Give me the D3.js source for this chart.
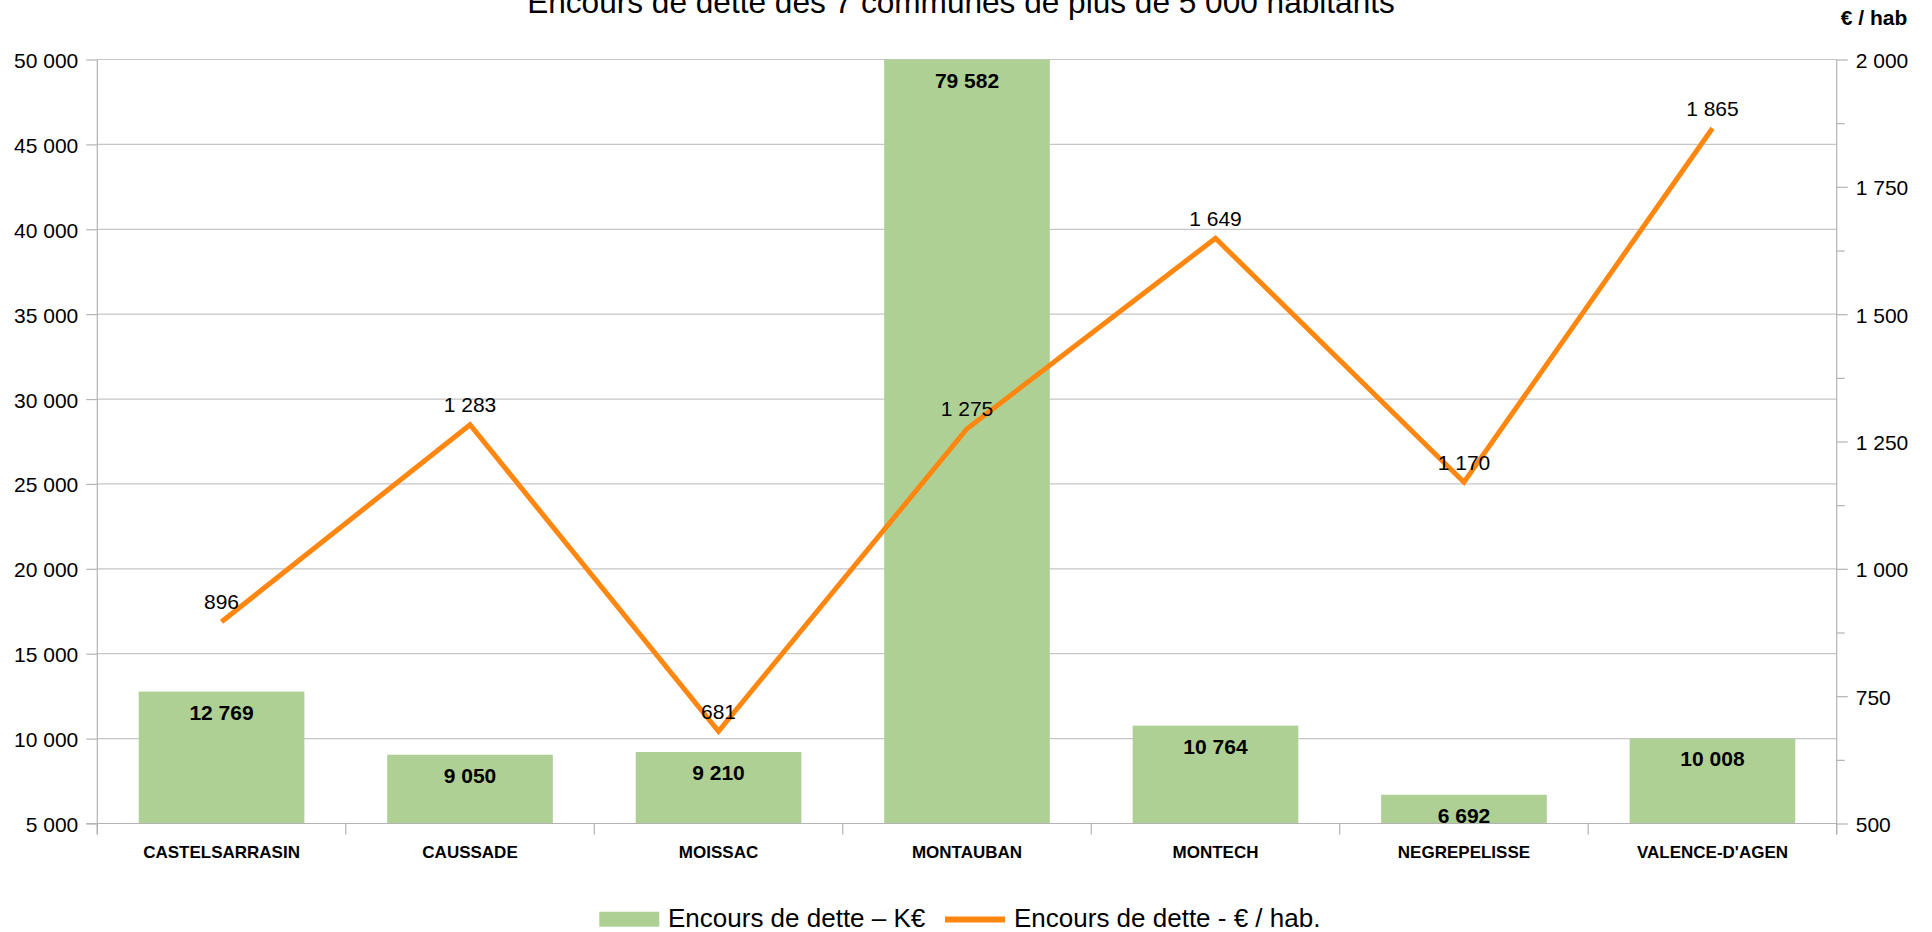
<!DOCTYPE html>
<html>
<head>
<meta charset="utf-8">
<script src="https://cdn.jsdelivr.net/npm/d3@7"></script>
<style>
  html, body { margin: 0; padding: 0; background: #ffffff; }
  svg { display: block; font-family: "Liberation Sans", Arial, sans-serif; }
</style>
</head>
<body>
<svg id="chart" width="1932" height="932"></svg>
<script>
// ---- Data ----
const categories = ["CASTELSARRASIN", "CAUSSADE", "MOISSAC", "MONTAUBAN", "MONTECH", "NEGREPELISSE", "VALENCE-D'AGEN"];
const debtK = [12769, 9050, 9210, 79582, 10764, 6692, 10008];
const debtPerHab = [896, 1283, 681, 1275, 1649, 1170, 1865];
const leftTicks = [5000, 10000, 15000, 20000, 25000, 30000, 35000, 40000, 45000, 50000];
const rightTicks = [500, 750, 1000, 1250, 1500, 1750, 2000];
const rightMinorTicks = [625, 875, 1125, 1375, 1625, 1875];
const titleText = "Encours de dette des 7 communes de plus de 5 000 habitants";
const rightAxisTitle = "€ / hab";
const seriesNames = ["Encours de dette – K€", "Encours de dette - € / hab."];

// ---- Layout ----
const W = 1932, H = 932;
const plot = { left: 97.3, right: 1836.7, top: 59.5, bottom: 823.5 };
const barColor = "#afd095";
const lineColor = "#ff870f";
const gridColor = "#c6c6c6";
const axisColor = "#b3b3b3";

const fr = d3.formatLocale({ decimal: ",", thousands: " ", grouping: [3], currency: ["", " €"] });
const fmt = fr.format(",d");

const svg = d3.select("#chart");

const x = d3.scaleBand().domain(categories).range([plot.left, plot.right]).padding(0);
const yL = d3.scaleLinear().domain([5000, 50000]).range([plot.bottom, plot.top]).clamp(true);
const yR = d3.scaleLinear().domain([500, 2000]).range([plot.bottom, plot.top]);

// Title
svg.append("text")
  .attr("x", 961).attr("y", 12.5)
  .attr("text-anchor", "middle")
  .attr("font-size", 31.6)
  .attr("fill", "#000")
  .text(titleText);

// Right axis title
svg.append("text")
  .attr("x", 1874).attr("y", 25)
  .attr("text-anchor", "middle")
  .attr("font-size", 21)
  .attr("font-weight", "bold")
  .attr("fill", "#000")
  .text(rightAxisTitle);

// Gridlines
svg.append("g").selectAll("line")
  .data(leftTicks.filter(t => t !== 5000))
  .join("line")
  .attr("x1", plot.left).attr("x2", plot.right)
  .attr("y1", d => yL(d)).attr("y2", d => yL(d))
  .attr("stroke", gridColor).attr("stroke-width", 1.2);

// Bars
const barW = x.bandwidth() * 2 / 3;
svg.append("g").selectAll("rect")
  .data(categories)
  .join("rect")
  .attr("x", (d) => x(d) + (x.bandwidth() - barW) / 2)
  .attr("width", barW)
  .attr("y", (d, i) => yL(debtK[i]))
  .attr("height", (d, i) => yL(5000) - yL(debtK[i]))
  .attr("fill", barColor);

// Left axis
const leftAxis = d3.axisLeft(yL).tickValues(leftTicks).tickFormat(fmt).tickSize(11).tickPadding(8);
const gL = svg.append("g").attr("transform", `translate(${plot.left},0)`).call(leftAxis);
gL.select(".domain").attr("stroke", axisColor).attr("stroke-width", 1.2)
  .attr("d", `M0,${plot.top}V${plot.bottom + 11}`);
gL.selectAll(".tick line").attr("stroke", axisColor).attr("stroke-width", 1.2);
gL.selectAll(".tick text").attr("font-size", 21).attr("fill", "#000")
  .attr("font-family", "Liberation Sans, Arial, sans-serif").attr("dy", "0.38em");

// Right axis
const rightAxis = d3.axisRight(yR).tickValues(rightTicks).tickFormat(fmt).tickSize(11).tickPadding(8);
const gR = svg.append("g").attr("transform", `translate(${plot.right},0)`).call(rightAxis);
gR.select(".domain").attr("stroke", axisColor).attr("stroke-width", 1.2)
  .attr("d", `M0,${plot.top}V${plot.bottom + 11}`);
gR.selectAll(".tick line").attr("stroke", axisColor).attr("stroke-width", 1.2);
gR.selectAll(".tick text").attr("font-size", 21).attr("fill", "#000")
  .attr("font-family", "Liberation Sans, Arial, sans-serif").attr("dy", "0.38em");
const minorAxis = d3.axisRight(yR).tickValues(rightMinorTicks).tickFormat("").tickSize(8);
const gRm = svg.append("g").attr("transform", `translate(${plot.right},0)`).call(minorAxis);
gRm.select(".domain").remove();
gRm.selectAll(".tick line").attr("stroke", axisColor).attr("stroke-width", 1.2);

// Bottom axis
const gB = svg.append("g").attr("transform", `translate(0,${plot.bottom})`)
  .call(d3.axisBottom(x).tickSize(0).tickPadding(0));
gB.select(".domain").attr("stroke", axisColor).attr("stroke-width", 1.2)
  .attr("d", `M${plot.left - 11},0H${plot.right}`);
gB.selectAll(".tick text")
  .attr("y", 34)
  .attr("dy", 0)
  .attr("font-size", 17)
  .attr("font-weight", "bold")
  .attr("fill", "#000")
  .attr("font-family", "Liberation Sans, Arial, sans-serif");
// Category separator ticks
const boundaries = categories.map(c => x(c)).concat([plot.right]);
svg.append("g").selectAll("line")
  .data(boundaries)
  .join("line")
  .attr("x1", d => d).attr("x2", d => d)
  .attr("y1", plot.bottom).attr("y2", plot.bottom + 11)
  .attr("stroke", axisColor).attr("stroke-width", 1.2);

// Bar labels
svg.append("g").selectAll("text")
  .data(categories)
  .join("text")
  .attr("x", d => x(d) + x.bandwidth() / 2)
  .attr("y", (d, i) => yL(debtK[i]) + 28)
  .attr("text-anchor", "middle")
  .attr("font-size", 21)
  .attr("font-weight", "bold")
  .attr("fill", "#000")
  .text((d, i) => fmt(debtK[i]));

// Line
const lineGen = d3.line()
  .x((d, i) => x(categories[i]) + x.bandwidth() / 2)
  .y(d => yR(d));
svg.append("path")
  .datum(debtPerHab)
  .attr("d", lineGen)
  .attr("fill", "none")
  .attr("stroke", lineColor)
  .attr("stroke-width", 5)
  .attr("stroke-linejoin", "miter");

// Line labels
svg.append("g").selectAll("text")
  .data(debtPerHab)
  .join("text")
  .attr("x", (d, i) => x(categories[i]) + x.bandwidth() / 2)
  .attr("y", d => yR(d) - 12.5)
  .attr("text-anchor", "middle")
  .attr("font-size", 21)
  .attr("fill", "#000")
  .text(d => fmt(d));

// Legend
const lg = svg.append("g");
lg.append("rect").attr("x", 599.3).attr("y", 911.7).attr("width", 60).attr("height", 15).attr("fill", barColor);
lg.append("text").attr("x", 668).attr("y", 926.7).attr("font-size", 26).attr("fill", "#000").text(seriesNames[0]);
lg.append("line").attr("x1", 945).attr("x2", 1005).attr("y1", 919.5).attr("y2", 919.5)
  .attr("stroke", lineColor).attr("stroke-width", 6);
lg.append("text").attr("x", 1014).attr("y", 926.7).attr("font-size", 26).attr("fill", "#000").text(seriesNames[1]);
</script>
</body>
</html>
